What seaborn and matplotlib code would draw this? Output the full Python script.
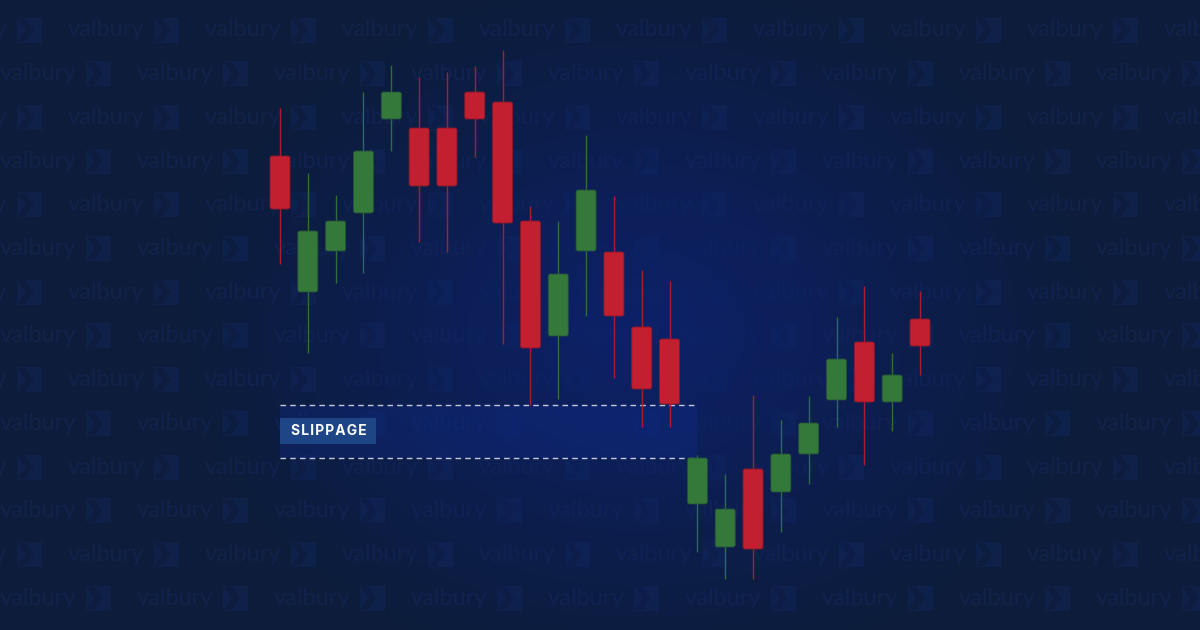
import numpy as np
import matplotlib
matplotlib.use("Agg")
import matplotlib.pyplot as plt
from matplotlib.patches import FancyBboxPatch, Rectangle, Polygon
import seaborn as sns

# OHLC values (arbitrary price units)
candle_open = [94.8, 67.6, 75.8, 83.4, 102.2, 100.4, 100.4, 107.6, 105.6, 81.8, 58.8, 75.8,
               75.6, 60.6, 58.2, 25.2, 16.6, 32.2, 27.6, 35.2, 46.0, 57.6, 45.6, 62.2]
candle_high = [104.4, 91.4, 87.0, 107.6, 113.0, 110.6, 111.6, 112.8, 116.0, 84.8, 81.8, 99.0,
               86.8, 72.0, 69.8, 35.0, 31.2, 47.0, 42.0, 46.8, 62.6, 68.8, 55.4, 67.8]
candle_low = [73.2, 55.4, 69.4, 71.4, 95.8, 77.6, 75.6, 94.6, 57.2, 45.0, 46.2, 62.8,
              50.4, 40.6, 40.6, 15.6, 10.2, 10.2, 19.6, 29.2, 40.6, 33.0, 39.8, 51.0]
candle_close = [84.2, 79.8, 81.8, 95.8, 107.6, 88.8, 88.8, 102.2, 81.4, 56.4, 71.2, 88.0,
                62.8, 48.2, 45.2, 34.4, 24.2, 16.2, 35.2, 41.4, 54.2, 45.6, 51.0, 56.8]

# slippage zone: expected fill vs actual fill
slippage_high = 45.0
slippage_low = 34.4
slippage_from = 0
slippage_to = 15
slippage_label = "SLIPPAGE"

BG = "#0D1C3A"
UP = "#35793A"
DOWN = "#C21F30"
UP_WICK = "#2F6E3A"
DOWN_WICK = "#A81E30"

sns.set_theme(style="dark", rc={"axes.facecolor": BG, "figure.facecolor": BG})
plt.rcParams["font.family"] = ["Lato", "DejaVu Sans"]

W, H = 1200, 630
n = len(candle_open)
step = 640 / (n - 1)           # px between candles
xlim = (-280 / step, n - 1 + 280 / step)
ylim = (0, 126)

fig = plt.figure(figsize=(12, 6.3), dpi=100)
ax = fig.add_axes([0, 0, 1, 1])
ax.set_axis_off()

# --- watermark (faint) ---
wm_text = "#11234B"
wm_logo = "#0F2149"
rows = np.arange(30, 640, 43.7)
for r, yp in enumerate(rows):
    base = -69 if r % 2 == 0 else 0
    for k in range(10):
        x0 = base + 137 * k
        if x0 > W:
            continue
        ax.text(x0 / W, 1 - yp / H, "valbury", ha="left", va="center", fontsize=17,
                color=wm_text, transform=ax.transAxes, zorder=0.5, clip_on=True)
        lx, ly = x0 + 86, yp - 12.5
        ax.add_patch(Rectangle((lx / W, 1 - (ly + 25) / H), 25 / W, 25 / H,
                               transform=ax.transAxes, color=wm_logo, lw=0, zorder=0.5))
        pts = [(lx, ly + 1), (lx + 8, ly + 1), (lx + 17, ly + 12.5),
               (lx + 8, ly + 24), (lx, ly + 24), (lx + 9, ly + 12.5)]
        ax.add_patch(Polygon([(px / W, 1 - py / H) for px, py in pts], closed=True,
                             transform=ax.transAxes, color="#0E1D3F", lw=0, zorder=0.55))

# --- central glow ---
gx = np.linspace(0, W, 600)
gy = np.linspace(0, H, 315)
X, Y = np.meshgrid(gx, gy)
d = np.sqrt(((X - 640) / 470) ** 2 + ((Y - 330) / 360) ** 2)
glow = np.zeros((len(gy), len(gx), 4))
glow[..., 0] = 12 / 255
glow[..., 1] = 33 / 255
glow[..., 2] = 106 / 255
glow[..., 3] = np.clip(1 - d, 0, 1) ** 1.1
ax.imshow(glow, extent=[xlim[0], xlim[1], ylim[0], ylim[1]], origin="upper",
          aspect="auto", zorder=1, interpolation="bilinear")

# --- slippage band ---
ax.fill_between([slippage_from, slippage_to], slippage_low, slippage_high,
                color="#1030A0", alpha=0.25, lw=0, zorder=2)
for lvl in (slippage_high, slippage_low):
    ax.plot([slippage_from, slippage_to], [lvl, lvl], color="#C3C9D8", lw=1,
            dashes=(4, 3), zorder=3)

# --- candles ---
body_w = 20 / step
aspect = step / 5
for i in range(n):
    o, h, l, c = candle_open[i], candle_high[i], candle_low[i], candle_close[i]
    up = c >= o
    ax.vlines(i, l, h, color=UP_WICK if up else DOWN_WICK, lw=1.0, zorder=4)
    lo, hi = min(o, c), max(o, c)
    ax.add_patch(FancyBboxPatch((i - body_w / 2, lo), body_w, hi - lo,
                                boxstyle="round,pad=0,rounding_size=0.08",
                                mutation_aspect=aspect,
                                fc=UP if up else DOWN, ec="#24503a" if up else "#8a1a2a",
                                lw=0.6, zorder=5))

# --- label ---
ax.add_patch(Rectangle((0, 37.2), 96 / step, 5.2, color="#1E4687", lw=0, zorder=6))
ax.text(49 / step, 39.8, "\u200a".join(slippage_label), ha="center", va="center",
        color="white", fontsize=10, fontweight="bold",
        family=["Inter", "DejaVu Sans"], zorder=7)

ax.set_xlim(*xlim)
ax.set_ylim(*ylim)

fig.savefig("out.png", dpi=100, facecolor=BG)
